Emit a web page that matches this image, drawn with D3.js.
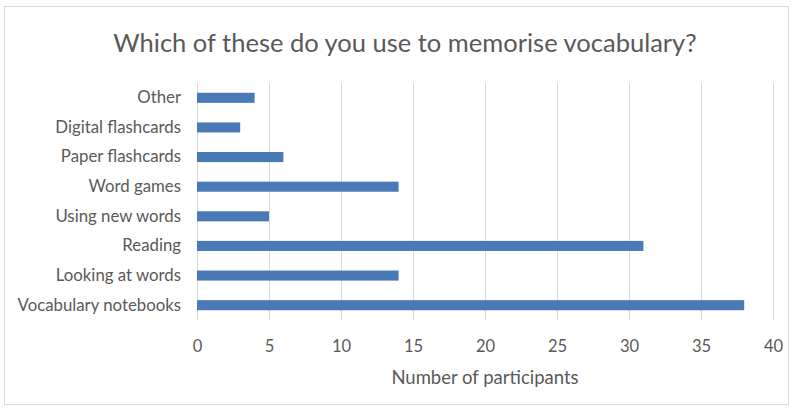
<!DOCTYPE html>
<html>
<head>
<meta charset="utf-8">
<script src="https://cdn.jsdelivr.net/npm/d3@7"></script>
<style>
  html, body { margin: 0; padding: 0; background: #fff; }
  svg { display: block; }
</style>
</head>
<body>
<svg id="chart" width="793" height="411"></svg>
<script>
// Survey answers: methods used to memorise vocabulary
const categories = [
  "Other",
  "Digital flashcards",
  "Paper flashcards",
  "Word games",
  "Using new words",
  "Reading",
  "Looking at words",
  "Vocabulary notebooks"
];
const participants = [4, 3, 6, 14, 5, 31, 14, 38];
const xTicks = [0, 5, 10, 15, 20, 25, 30, 35, 40];

const chartTitle = "Which of these do you use to memorise vocabulary?";
const xTitle = "Number of participants";

const W = 793, H = 411;
const plot = { left: 197, right: 773, top: 83, bottom: 320 };
const font = "Lato, 'Open Sans', sans-serif";
const textColor = "#595959";

const svg = d3.select("#chart");

// outer frame
svg.append("rect")
  .attr("x", 4.5).attr("y", 6.5)
  .attr("width", 784).attr("height", 398)
  .attr("fill", "#fff")
  .attr("stroke", "#d9d9d9")
  .attr("stroke-width", 1);

const x = d3.scaleLinear().domain([0, 40]).range([plot.left, plot.right]);
const y = d3.scaleBand().domain(categories).range([plot.top, plot.bottom]).paddingInner(0.66).paddingOuter(0.33);

// vertical gridlines
svg.append("g")
  .selectAll("line")
  .data(xTicks)
  .join("line")
  .attr("x1", d => Math.round(x(d)) + 0.5)
  .attr("x2", d => Math.round(x(d)) + 0.5)
  .attr("y1", plot.top)
  .attr("y2", plot.bottom)
  .attr("stroke", "#d9d9d9")
  .attr("stroke-width", 1);

// bars
svg.append("g")
  .selectAll("rect")
  .data(categories)
  .join("rect")
  .attr("x", x(0))
  .attr("y", d => y(d))
  .attr("width", (d, i) => x(participants[i]) - x(0))
  .attr("height", y.bandwidth())
  .attr("fill", "#4a7ab5");

// x axis labels
const xAxis = d3.axisBottom(x).tickValues(xTicks).tickSize(0).tickPadding(0);
const gx = svg.append("g")
  .attr("transform", `translate(0, ${plot.bottom + 20})`)
  .call(xAxis);
gx.select(".domain").remove();
gx.selectAll("text")
  .attr("dy", "0.71em")
  .attr("fill", textColor)
  .style("font-family", font)
  .style("font-size", "16.5px");

// y axis labels
const yAxis = d3.axisLeft(y).tickSize(0).tickPadding(0);
const gy = svg.append("g")
  .attr("transform", `translate(${plot.left - 16}, 0)`)
  .call(yAxis);
gy.select(".domain").remove();
gy.selectAll("text")
  .attr("fill", textColor)
  .style("font-family", font)
  .style("font-size", "16.8px");

// titles
svg.append("text")
  .attr("x", 405).attr("y", 52)
  .attr("text-anchor", "middle")
  .attr("fill", textColor)
  .style("font-family", font)
  .style("font-size", "25.5px")
  .text(chartTitle);

svg.append("text")
  .attr("x", (plot.left + plot.right) / 2).attr("y", 384)
  .attr("text-anchor", "middle")
  .attr("fill", textColor)
  .style("font-family", font)
  .style("font-size", "18.5px")
  .text(xTitle);
</script>
</body>
</html>
